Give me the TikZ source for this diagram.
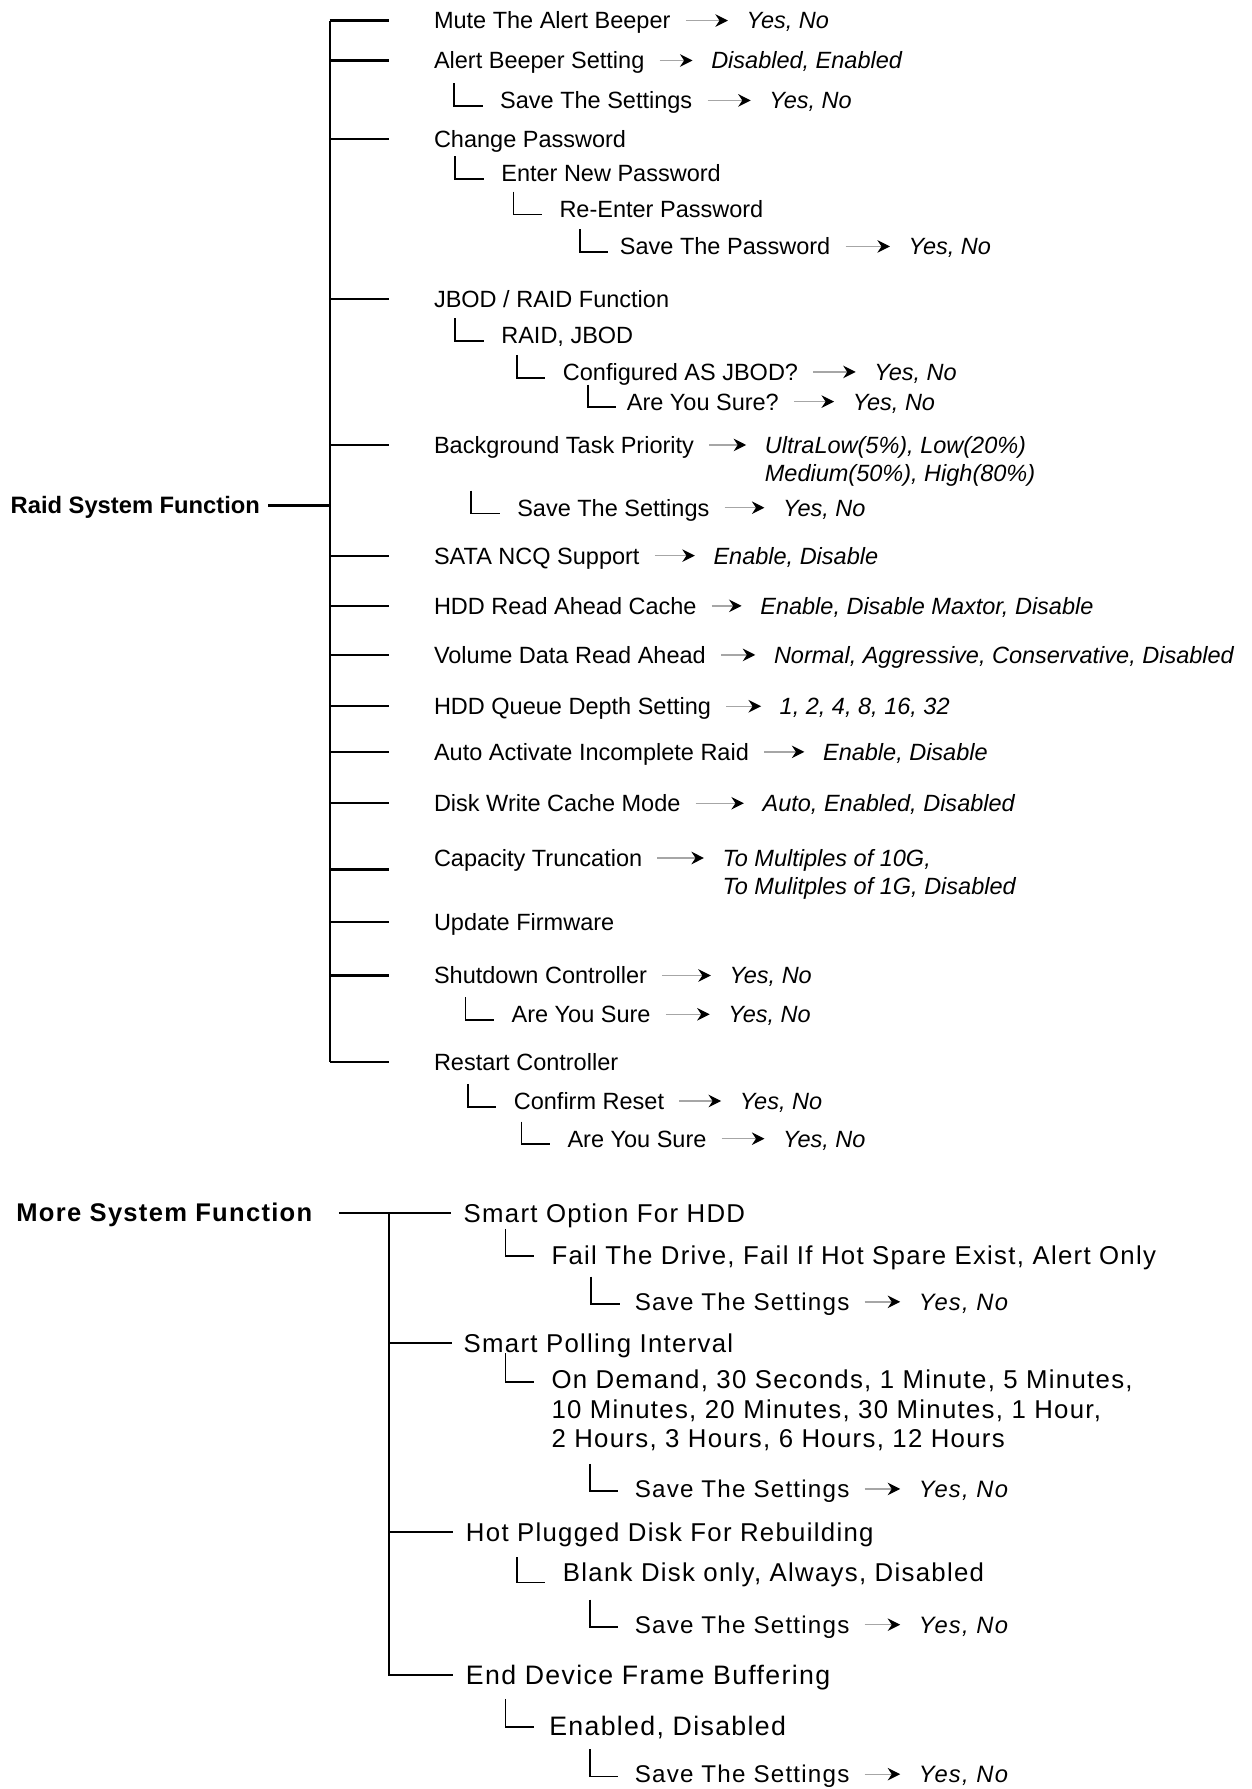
\documentclass[tikz,border=0pt]{standalone}
\usepackage{fontspec}
\setmainfont{Liberation Sans}
\newfontfamily\widesans[LetterSpace=5]{Liberation Sans}
\usetikzlibrary{arrows.meta}
% corner hook in front of a sub entry: [offset]{node}{rise}{drop}
\newcommand{\twig}[4][40]{\draw[twig] (#2.west) ++(-#1,-#3) |- ++(25,#3+#4);}

\begin{document}
\begin{tikzpicture}[x=0.5pt, y=-0.5pt,
        opt/.style={anchor=west, inner sep=0pt, text height=7.4pt, text depth=0pt, font=\fontsize{10.3}{12}\selectfont},
        val/.style={opt, font=\fontsize{10.3}{12}\selectfont\itshape},
        head/.style={opt, text height=7.5pt, font=\fontsize{10.4}{12}\selectfont\bfseries},
        mopt/.style={anchor=west, inner sep=0pt, text height=8.1pt, text depth=0pt, font=\widesans\fontsize{11.3}{13}\selectfont},
        mbig/.style={mopt, text height=8.4pt, font=\widesans\fontsize{11.7}{14}\selectfont},
        msave/.style={mopt, text height=7.6pt, font=\widesans\fontsize{10.6}{13}\selectfont},
        mval/.style={msave, font=\widesans\fontsize{10.4}{13}\selectfont\itshape},
        mhead/.style={mopt, text height=8pt, font=\widesans\fontsize{11.2}{13}\selectfont\bfseries},
        stem/.style={line width=1pt},
        twig/.style={line width=0.8pt},
        arrow/.style={->, >={Stealth[length=5.5pt, width=5.5pt, inset=1.8pt, black]}, draw=black!35, line width=0.6pt, shorten <=6.5pt, shorten >=8pt}
    ]
        \path[fill=white] (0,0) rectangle (1097,1568);
        \useasboundingbox (0,0) rectangle (1097,1568);

        % Raid System Function
        \node[head] (raid) at (9,443) {Raid System Function};
        \coordinate (raidtrunk) at (289,443);

        \node[opt] (mute) at (380,18) {Mute The Alert Beeper};
        \node[val] (muteval) at (654,18) {Yes, No};
        \node[opt] (beeper) at (380,53) {Alert Beeper Setting};
        \node[val] (beeperval) at (623,53) {Disabled, Enabled};
        \node[opt] (beepsave) at (438,88) {Save The Settings};
        \node[val] (beepsaveval) at (674,88) {Yes, No};
        \node[opt] (passwd) at (380,122) {Change Password};
        \node[opt] (newpw) at (439,152) {Enter New Password};
        \node[opt] (repw) at (490,183) {Re-Enter Password};
        \node[opt] (savepw) at (543,216) {Save The Password};
        \node[val] (savepwval) at (796,216) {Yes, No};
        \node[opt] (jbod) at (380,262) {JBOD / RAID Function};
        \node[opt] (raidjbod) at (439,294) {RAID, JBOD};
        \node[opt] (asjbod) at (493,326) {Configured AS JBOD?};
        \node[val] (asjbodval) at (766,326) {Yes, No};
        \node[opt] (jbodsure) at (549,352) {Are You Sure?};
        \node[val] (jbodsureval) at (747,352) {Yes, No};
        \node[opt] (bgtask) at (380,390) {Background Task Priority};
        \node[val] (bgtaskval) at (670,390) {UltraLow(5\%), Low(20\%)};
        \node[val] (bgtaskval2) at (670,415) {Medium(50\%), High(80\%)};
        \node[opt] (bgsave) at (453,445) {Save The Settings};
        \node[val] (bgsaveval) at (686,445) {Yes, No};
        \node[opt] (ncq) at (380,487) {SATA NCQ Support};
        \node[val] (ncqval) at (625,487) {Enable, Disable};
        \node[opt] (readahead) at (380,531) {HDD Read Ahead Cache};
        \node[val] (readaheadval) at (666,531) {Enable, Disable Maxtor, Disable};
        \node[opt] (volread) at (380,574) {Volume Data Read Ahead};
        \node[val] (volreadval) at (678,574) {Normal, Aggressive, Conservative, Disabled};
        \node[opt] (queue) at (380,619) {HDD Queue Depth Setting};
        \node[val] (queueval) at (683,619) {1, 2, 4, 8, 16, 32};
        \node[opt] (autoact) at (380,659) {Auto Activate Incomplete Raid};
        \node[val] (autoactval) at (721,659) {Enable, Disable};
        \node[opt] (wcache) at (380,704) {Disk Write Cache Mode};
        \node[val] (wcacheval) at (668,704) {Auto, Enabled, Disabled};
        \node[opt] (trunc) at (380,752) {Capacity Truncation};
        \node[val] (truncval) at (633,752) {To Multiples of 10G,};
        \node[val] (truncval2) at (633,777) {To Mulitples of 1G, Disabled};
        \node[opt] (firmware) at (380,808) {Update Firmware};
        \node[opt] (shutdown) at (380,855) {Shutdown Controller};
        \node[val] (shutdownval) at (639,855) {Yes, No};
        \node[opt] (shutsure) at (448,889) {Are You Sure};
        \node[val] (shutsureval) at (638,889) {Yes, No};
        \node[opt] (restart) at (380,931) {Restart Controller};
        \node[opt] (reset) at (450,965) {Confirm Reset};
        \node[val] (resetval) at (648,965) {Yes, No};
        \node[opt] (resetsure) at (497,998) {Are You Sure};
        \node[val] (resetsureval) at (686,998) {Yes, No};

        \draw[stem] ([xshift=3.5pt]raid.east) -- (raidtrunk);
        \draw[stem] (raidtrunk |- mute) -- (raidtrunk |- restart);
        \draw[stem] (raidtrunk |- mute) -- ([xshift=-19.5pt]mute.west);
        \draw[stem] (raidtrunk |- beeper) -- ([xshift=-19.5pt]beeper.west);
        \draw[stem] (raidtrunk |- passwd) -- ([xshift=-19.5pt]passwd.west);
        \draw[stem] (raidtrunk |- jbod) -- ([xshift=-19.5pt]jbod.west);
        \draw[stem] (raidtrunk |- bgtask) -- ([xshift=-19.5pt]bgtask.west);
        \draw[stem] (raidtrunk |- ncq) -- ([xshift=-19.5pt]ncq.west);
        \draw[stem] (raidtrunk |- readahead) -- ([xshift=-19.5pt]readahead.west);
        \draw[stem] (raidtrunk |- volread) -- ([xshift=-19.5pt]volread.west);
        \draw[stem] (raidtrunk |- queue) -- ([xshift=-19.5pt]queue.west);
        \draw[stem] (raidtrunk |- autoact) -- ([xshift=-19.5pt]autoact.west);
        \draw[stem] (raidtrunk |- wcache) -- ([xshift=-19.5pt]wcache.west);
        \draw[stem] ([yshift=-5pt]raidtrunk |- trunc) -- ([xshift=-19.5pt,yshift=-5pt]trunc.west);
        \draw[stem] (raidtrunk |- firmware) -- ([xshift=-19.5pt]firmware.west);
        \draw[stem] (raidtrunk |- shutdown) -- ([xshift=-19.5pt]shutdown.west);
        \draw[stem] (raidtrunk |- restart) -- ([xshift=-19.5pt]restart.west);

        \twig{beepsave}{15}{5}
        \twig{newpw}{15}{5}
        \twig{repw}{15}{5}
        \twig[35]{savepw}{15}{5}
        \twig{raidjbod}{15}{5}
        \twig{asjbod}{15}{5}
        \twig[34]{jbodsure}{15}{5}
        \twig{bgsave}{15}{5}
        \twig{shutsure}{15}{5}
        \twig{reset}{15}{5}
        \twig{resetsure}{15}{5}

        \draw[arrow] (mute) -- (muteval);
        \draw[arrow] (beeper) -- (beeperval);
        \draw[arrow] (beepsave) -- (beepsaveval);
        \draw[arrow] (savepw) -- (savepwval);
        \draw[arrow] (asjbod) -- (asjbodval);
        \draw[arrow] (jbodsure) -- (jbodsureval);
        \draw[arrow] (bgtask) -- (bgtaskval);
        \draw[arrow] (bgsave) -- (bgsaveval);
        \draw[arrow] (ncq) -- (ncqval);
        \draw[arrow] (readahead) -- (readaheadval);
        \draw[arrow] (volread) -- (volreadval);
        \draw[arrow] (queue) -- (queueval);
        \draw[arrow] (autoact) -- (autoactval);
        \draw[arrow] (wcache) -- (wcacheval);
        \draw[arrow] (trunc) -- (truncval);
        \draw[arrow] (shutdown) -- (shutdownval);
        \draw[arrow] (shutsure) -- (shutsureval);
        \draw[arrow] (reset) -- (resetval);
        \draw[arrow] (resetsure) -- (resetsureval);

        % More System Function
        \node[mhead] (more) at (14,1063) {More System Function};
        \coordinate (moretrunk) at (341,1063);

        \node[mopt] (smartopt) at (406,1063) {Smart Option For HDD};
        \node[mopt] (failopt) at (483,1100) {Fail The Drive, Fail If Hot Spare Exist, Alert Only};
        \node[msave] (smartsave) at (556,1141) {Save The Settings};
        \node[mval] (smartsaveval) at (805,1141) {Yes, No};
        \node[mopt] (polling) at (406,1177) {Smart Polling Interval};
        \node[mopt] (pollopt) at (483,1209) {On Demand, 30 Seconds, 1 Minute, 5 Minutes,};
        \node[mopt] (pollopt2) at (483,1235) {10 Minutes, 20 Minutes, 30 Minutes, 1 Hour,};
        \node[mopt] (pollopt3) at (483,1261) {2 Hours, 3 Hours, 6 Hours, 12 Hours};
        \node[msave] (pollsave) at (556,1305) {Save The Settings};
        \node[mval] (pollsaveval) at (805,1305) {Yes, No};
        \node[mopt] (hotplug) at (408,1343) {Hot Plugged Disk For Rebuilding};
        \node[mopt] (hotopt) at (493,1378) {Blank Disk only, Always, Disabled};
        \node[msave] (hotsave) at (556,1424) {Save The Settings};
        \node[mval] (hotsaveval) at (805,1424) {Yes, No};
        \node[mbig] (framebuf) at (408,1468) {End Device Frame Buffering};
        \node[mbig] (frameopt) at (481,1513) {Enabled, Disabled};
        \node[msave] (framesave) at (556,1555) {Save The Settings};
        \node[mval] (framesaveval) at (805,1555) {Yes, No};

        \draw[stem] ([xshift=11.5pt]more.east) -- ([xshift=-5.5pt]smartopt.west);
        \draw[stem] (moretrunk) |- ([xshift=-5.5pt]framebuf.west);
        \draw[stem] (moretrunk |- polling) -- ([xshift=-5pt]polling.west);
        \draw[stem] (moretrunk |- hotplug) -- ([xshift=-5.5pt]hotplug.west);

        \twig{failopt}{23}{1}
        \twig[38]{smartsave}{22}{2}
        \twig{pollopt}{23}{2}
        \twig[39]{pollsave}{22}{2}
        \twig{hotopt}{13}{9}
        \twig[39]{hotsave}{22}{2}
        \twig[38]{frameopt}{24}{1}
        \twig[39]{framesave}{22}{2}

        \draw[arrow] (smartsave) -- (smartsaveval);
        \draw[arrow] (pollsave) -- (pollsaveval);
        \draw[arrow] (hotsave) -- (hotsaveval);
        \draw[arrow] (framesave) -- (framesaveval);
    \end{tikzpicture}
\end{document}
